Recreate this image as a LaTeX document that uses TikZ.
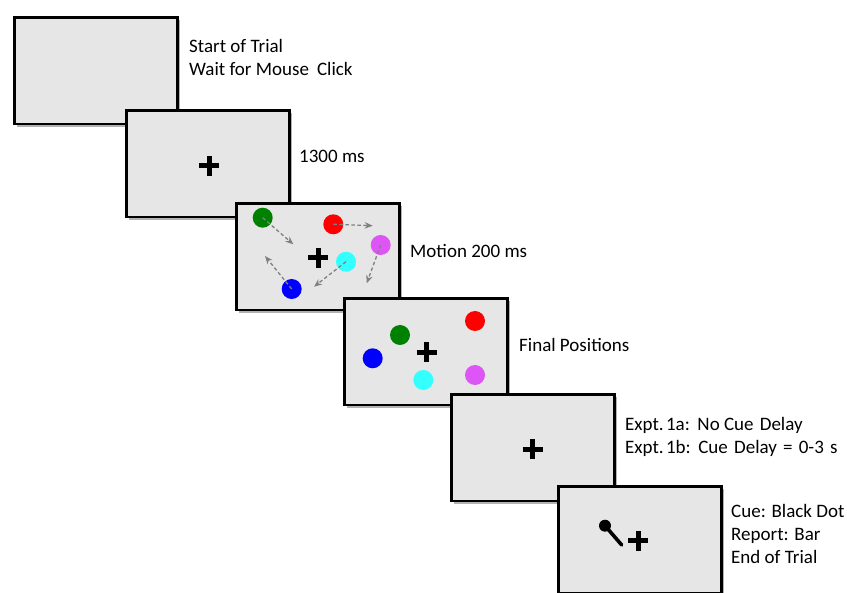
\documentclass[tikz,border=0pt]{standalone}
\usepackage{fontspec}
\setmainfont{Carlito}
\usetikzlibrary{shadows,arrows.meta}
\definecolor{panelgray}{HTML}{E6E6E6}
\definecolor{dotgreen}{HTML}{008000}
\definecolor{dotred}{HTML}{FF0000}
\definecolor{dotmagenta}{HTML}{DD55F5}
\definecolor{dotcyan}{HTML}{33FFFF}
\definecolor{dotblue}{HTML}{0000FF}
\definecolor{arrowgray}{HTML}{808080}
\begin{document}
\begin{tikzpicture}[x=1pt,y=-1pt,
  panel/.style={draw=black, line width=2.6pt, fill=panelgray,
    minimum width=163pt, minimum height=106.5pt, anchor=north west, inner sep=0pt,
    xshift=1.3pt, yshift=-1.3pt,
    drop shadow={shadow xshift=2.5pt, shadow yshift=-2.5pt, fill=black, opacity=0.3}},
  caption/.style={anchor=west, align=left, inner sep=0pt,
    font=\fontsize{19}{23}\selectfont},
  dot/.style={circle, inner sep=0pt, minimum size=20pt},
  move/.style={draw=arrowgray, line width=1.3pt, dash pattern=on 3.5pt off 2.5pt,
    -{Stealth[length=8pt,width=6.5pt]}},
  fixation/.pic={\draw[line width=5pt] (-10,0) -- (10,0) (0,-10) -- (0,10);}
]
\useasboundingbox (0,0) rectangle (847,593);

% screen 1: blank
\node[panel] (p1) at (12,15) {};
\node[caption] (t1) at (189,57.5) {Start of Trial\\Wait for Mouse\hspace{0.2em} Click};

% screen 2: fixation
\node[panel] (p2) at (124,108) {};
\pic at (209,166) {fixation};
\node[caption] (t2) at (299,156) {1300 ms};

% screen 3: motion
\node[panel] (p3) at (234,201) {};
\pic at (318,258) {fixation};
\node[dot, fill=dotgreen]   (g3) at (262.7,217.7) {};
\node[dot, fill=dotred]     (r3) at (333.3,224.3) {};
\node[dot, fill=dotmagenta] (m3) at (380.7,245) {};
\node[dot, fill=dotcyan]    (c3) at (346,261.7) {};
\node[dot, fill=dotblue]    (b3) at (291.7,289) {};
\coordinate (g3e) at (293.3,244.3);
\coordinate (r3e) at (372.7,225.7);
\coordinate (m3e) at (366.7,283.3);
\coordinate (c3e) at (314,286.7);
\coordinate (b3e) at (265,256);
\draw[move] (g3.center) -- (g3e);
\draw[move] (r3.center) -- (r3e);
\draw[move] (m3.center) -- (m3e);
\draw[move] (c3.center) -- (c3e);
\draw[move] (b3.center) -- (b3e);
\node[caption] (t3) at (410,251) {Motion 200 ms};

% screen 4: final positions
\node[panel] (p4) at (342,296) {};
\pic at (426.7,352.3) {fixation};
\node[dot, fill=dotred]     (r4) at (475,321) {};
\node[dot, fill=dotgreen]   (g4) at (400,335) {};
\node[dot, fill=dotblue]    (b4) at (372.7,358.3) {};
\node[dot, fill=dotcyan]    (c4) at (423.3,380) {};
\node[dot, fill=dotmagenta] (m4) at (475,375) {};
\node[caption] (t4) at (519,345) {Final Positions};

% screen 5: delay
\node[panel] (p5) at (449,392) {};
\pic at (532.7,449.3) {fixation};
\node[caption] (t5) at (625,437)
  {Expt.\hspace{0.12em}1a:\hspace{0.1em} No Cue\hspace{0.1em} Delay\\Expt.\hspace{0.12em}1b:\hspace{0.1em} Cue\hspace{0.1em} Delay\hspace{0.1em} =\hspace{0.1em} 0-3\hspace{0.1em} s};

% screen 6: cue and report
\node[panel] (p6) at (556,484) {};
\pic at (638.3,541) {fixation};
\node[dot, fill=black, minimum size=12pt] (cue) at (605,525.7) {};
\coordinate (barend) at (621.7,545);
\draw[line width=3.6pt, line cap=round] (cue.center) -- (barend);
\node[caption] (t6) at (731,534) {Cue: Black Dot\\Report: Bar\\End of Trial};
\end{tikzpicture}
\end{document}
